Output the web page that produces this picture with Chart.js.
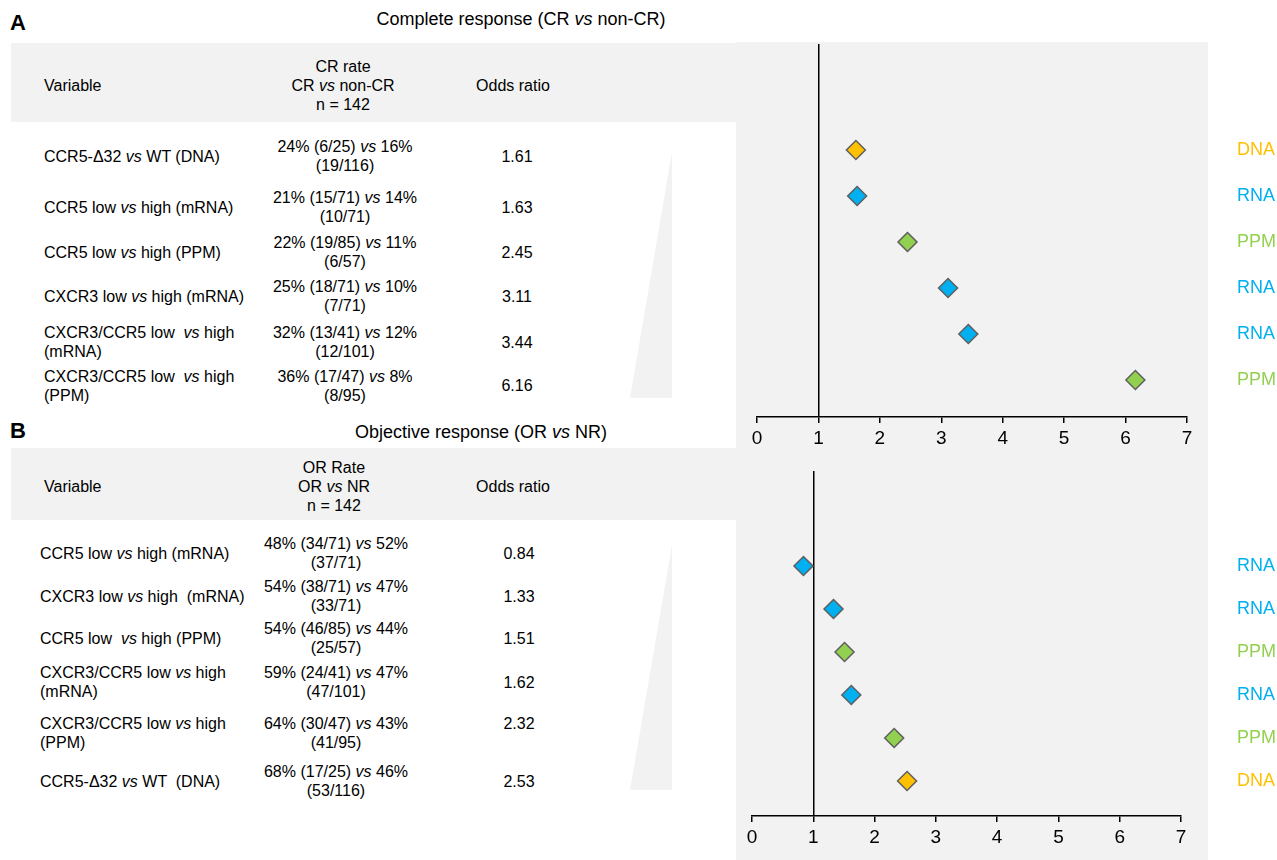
<!DOCTYPE html>
<html lang="en">
<head>
<meta charset="UTF-8" />
<title>CCR5 / CXCR3 odds ratios</title>
<script src="https://cdn.jsdelivr.net/npm/chart.js@4"></script>
<style>
  body { margin: 0; background: #fff; font-family: "Liberation Sans", Arial, sans-serif; color: #000; }
  #page { position: relative; width: 1277px; height: 860px; overflow: hidden; }
  .gray { position: absolute; background: #f2f2f2; }
  .wedge { position: absolute; background: #f2f2f2; clip-path: polygon(100% 0, 100% 100%, 0 100%); }
  .txt { position: absolute; font-size: 16px; line-height: 19px; white-space: pre; transform: translateY(-50%); }
  .mid { text-align: center; transform: translate(-50%, -50%); }
  .letter { position: absolute; left: 10px; font-size: 22px; font-weight: bold; transform: translateY(-50%); }
  .title { position: absolute; font-size: 18px; white-space: pre; transform: translate(-50%, -50%); }
  .plot { position: absolute; left: 736px; width: 541px; }
</style>
</head>
<body>
<div id="page">
  <div class="gray" style="left:736px; top:42px; width:472px; height:818px"></div>
  <div class="gray" style="left:11px; top:43px; width:725px; height:79px"></div>
  <div class="gray" style="left:11px; top:448px; width:725px; height:72px"></div>
  <div class="wedge" style="left:630px; top:152px; width:42px; height:246px"></div>
  <div class="wedge" style="left:630px; top:545px; width:42px; height:245px"></div>

  <div class="letter" style="top:23px">A</div>
  <div class="title" style="left:521px; top:19px">Complete response (CR <i>vs</i> non-CR)</div>
  <div class="letter" style="top:431px">B</div>
  <div class="title" style="left:481px; top:432px">Objective response (OR <i>vs</i> NR)</div>

  <div id="tableA"></div>
  <div id="tableB"></div>

  <div class="plot" style="top:30px; height:420px"><canvas id="chartA"></canvas></div>
  <div class="plot" style="top:450px; height:410px"><canvas id="chartB"></canvas></div>
</div>

<script>
  // DATA
  const variablesA = [
    'CCR5-Δ32 vs WT (DNA)',
    'CCR5 low vs high (mRNA)',
    'CCR5 low vs high (PPM)',
    'CXCR3 low vs high (mRNA)',
    'CXCR3/CCR5 low  vs high\n(mRNA)',
    'CXCR3/CCR5 low  vs high\n(PPM)'
  ];
  const ratesA = [
    '24% (6/25) vs 16% (19/116)',
    '21% (15/71) vs 14% (10/71)',
    '22% (19/85) vs 11% (6/57)',
    '25% (18/71) vs 10% (7/71)',
    '32% (13/41) vs 12% (12/101)',
    '36% (17/47) vs 8% (8/95)'
  ];
  const oddsA = [1.61, 1.63, 2.45, 3.11, 3.44, 6.16];
  const typesA = ['DNA', 'RNA', 'PPM', 'RNA', 'RNA', 'PPM'];

  const variablesB = [
    'CCR5 low vs high (mRNA)',
    'CXCR3 low vs high  (mRNA)',
    'CCR5 low  vs high (PPM)',
    'CXCR3/CCR5 low vs high\n(mRNA)',
    'CXCR3/CCR5 low vs high\n(PPM)',
    'CCR5-Δ32 vs WT  (DNA)'
  ];
  const ratesB = [
    '48% (34/71) vs 52% (37/71)',
    '54% (38/71) vs 47% (33/71)',
    '54% (46/85) vs 44% (25/57)',
    '59% (24/41) vs 47% (47/101)',
    '64% (30/47) vs 43% (41/95)',
    '68% (17/25) vs 46% (53/116)'
  ];
  const oddsB = [0.84, 1.33, 1.51, 1.62, 2.32, 2.53];
  const typesB = ['RNA', 'RNA', 'PPM', 'RNA', 'PPM', 'DNA'];

  const xTicks = [0, 1, 2, 3, 4, 5, 6, 7];
  const typeColors = { DNA: '#ffc000', RNA: '#00b0f0', PPM: '#92d050' };

  // TABLES (layout only)
  const rowYA = [156, 207, 252, 296, 342, 386];
  const orYA = [156, 207, 252, 296, 342, 385];
  const rowYB = [553, 596, 638, 682, 733, 781];
  const orYB = [553, 596, 638, 682, 723, 781];

  function italVs(s) {
    return s.replace(/\bvs\b/g, '<i>vs</i>');
  }

  function rateLines(s) {
    let parts = s.split(' vs ');
    let cut = parts[1].indexOf(' ');
    return parts[0] + ' <i>vs</i> ' + parts[1].slice(0, cut) + '\n' + parts[1].slice(cut + 1);
  }

  function addText(parent, html, x, y, centered) {
    let d = document.createElement('div');
    d.className = centered ? 'txt mid' : 'txt';
    d.style.left = x + 'px';
    d.style.top = y + 'px';
    d.innerHTML = html;
    parent.appendChild(d);
  }

  function buildTable(id, header, headY, vars, rates, odds, rowY, orY, varX, rateX, orX) {
    let el = document.getElementById(id);
    addText(el, 'Variable', 44, headY, false);
    addText(el, italVs(header), rateX - 2, headY, true);
    addText(el, 'Odds ratio', 513, headY, true);
    vars.forEach((v, i) => {
      addText(el, italVs(v), varX, rowY[i], false);
      addText(el, rateLines(rates[i]), rateX, rowY[i], true);
      addText(el, odds[i].toFixed(2), orX, orY[i], true);
    });
  }

  buildTable('tableA', 'CR rate\nCR vs non-CR\nn = 142', 85, variablesA, ratesA, oddsA, rowYA, orYA, 44, 345, 517);
  buildTable('tableB', 'OR Rate\nOR vs NR\nn = 142', 486, variablesB, ratesB, oddsB, rowYB, orYB, 40, 336, 519);

  // CHARTS
  const font = '"Liberation Sans", Arial, sans-serif';

  function makeChart(id, odds, types, pad, axisH, yWidth, yMin, yMax) {
    return new Chart(document.getElementById(id), {
      type: 'scatter',
      data: {
        datasets: [{
          data: odds.map((v, i) => ({ x: v, y: i })),
          pointStyle: 'rectRot',
          pointRadius: 9.5,
          pointHoverRadius: 9.5,
          pointBackgroundColor: types.map(t => typeColors[t]),
          pointBorderColor: '#5f5f5f',
          pointBorderWidth: 1.5
        }]
      },
      options: {
        responsive: true,
        maintainAspectRatio: false,
        animation: false,
        layout: { padding: { left: pad.left, top: pad.top, right: 0, bottom: 0 } },
        plugins: { legend: { display: false }, tooltip: { enabled: false } },
        scales: {
          x: {
            type: 'linear',
            min: xTicks[0],
            max: xTicks[xTicks.length - 1],
            afterBuildTicks: s => { s.ticks = xTicks.map(v => ({ value: v })); },
            afterFit: s => { s.height = axisH; },
            ticks: { color: '#000', font: { size: 19, family: font }, padding: 4 },
            grid: {
              color: c => (c.tick && c.tick.value === 1 ? '#000' : 'rgba(0,0,0,0)'),
              tickColor: '#000',
              lineWidth: 1.5,
              tickLength: 6
            },
            border: { color: '#000', width: 1.5 }
          },
          y: {
            type: 'linear',
            position: 'right',
            reverse: true,
            min: yMin,
            max: yMax,
            afterBuildTicks: s => { s.ticks = types.map((t, i) => ({ value: i })); },
            afterFit: s => { s.width = yWidth; s.paddingTop = 0; s.paddingBottom = 0; },
            ticks: {
              autoSkip: false,
              padding: yWidth - 40,
              font: { size: 18, family: font },
              color: c => typeColors[types[c.tick.value]],
              callback: v => types[v]
            },
            grid: { display: false, drawTicks: false },
            border: { display: false }
          }
        }
      }
    });
  }

  makeChart('chartA', oddsA, typesA, { left: 21, top: 14 }, 33, 90, -2.304, 5.804);
  makeChart('chartB', oddsB, typesB, { left: 16, top: 21 }, 44, 96, -2.209, 5.814);
</script>
</body>
</html>
